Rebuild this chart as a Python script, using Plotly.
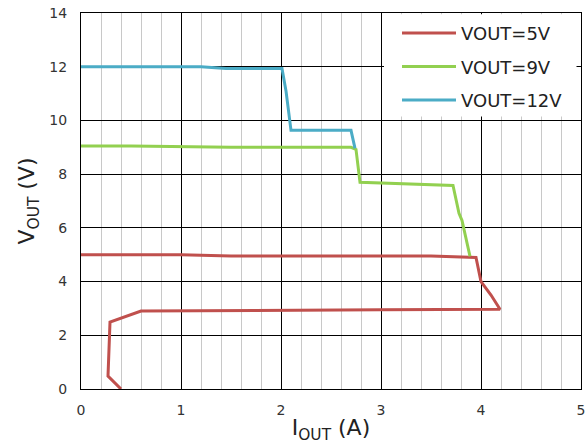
import plotly.graph_objects as go

# Output voltage vs output current curves, one per VOUT setting
i_5v = [0.0, 1.0, 1.5, 3.0, 3.5, 3.95, 4.0, 4.1, 4.19, 3.0, 1.0, 0.6, 0.29, 0.27, 0.27, 0.4]
v_5v = [5.0, 5.0, 4.95, 4.95, 4.95, 4.9, 4.0, 3.5, 2.97, 2.95, 2.9, 2.9, 2.49, 1.0, 0.48, 0.0]

i_9v = [0.0, 0.5, 1.5, 2.7, 2.75, 2.79, 3.72, 3.78, 3.81, 3.89]
v_9v = [9.05, 9.05, 9.0, 9.0, 8.92, 7.7, 7.58, 6.54, 6.28, 4.94]

i_12v = [0.0, 1.2, 1.45, 2.01, 2.05, 2.1, 2.7, 2.74]
v_12v = [12.0, 12.0, 11.93, 11.93, 11.1, 9.63, 9.63, 8.96]

series_names = ["VOUT=5V", "VOUT=9V", "VOUT=12V"]
series_colors = ["#C0504D", "#92D050", "#4BACC6"]

x_ticks = [0, 1, 2, 3, 4, 5]
y_ticks = [0, 2, 4, 6, 8, 10, 12, 14]

FONT = "DejaVu Sans"

fig = go.Figure()
for name, color, xs, ys in zip(series_names, series_colors,
                               [i_5v, i_9v, i_12v], [v_5v, v_9v, v_12v]):
    fig.add_trace(go.Scatter(
        x=xs, y=ys, mode="lines", name=name, legendgroup=name,
        line=dict(color=color, width=3),
    ))

# white panel behind the legend, hiding the grid there
fig.add_shape(
    type="rect", xref="paper", yref="paper",
    x0=0.606, x1=0.991, y0=0.725, y1=0.997,
    fillcolor="white", line=dict(width=0), layer="above",
)

fig.update_layout(
    width=588, height=444,
    margin=dict(l=81, r=3, t=13, b=55),
    paper_bgcolor="white", plot_bgcolor="white",
    font=dict(family=FONT, color="#333333"),
    showlegend=True,
    legend=dict(
        x=0.632, xanchor="left", y=0.995, yanchor="top",
        bgcolor="rgba(0,0,0,0)", borderwidth=0,
        font=dict(family=FONT, size=18, color="#222222"),
        tracegroupgap=7, itemwidth=54,
    ),
    xaxis=dict(
        range=[0, 5], tickvals=x_ticks, ticktext=[str(t) for t in x_ticks],
        showgrid=True, gridcolor="#000000", gridwidth=1,
        minor=dict(dtick=0.2, showgrid=True, gridcolor="#C8C8C8", gridwidth=1),
        showline=True, linecolor="#000000", linewidth=1, mirror=True,
        zeroline=False, ticks="",
        tickfont=dict(family=FONT, size=14, color="#333333"),
        ticklabelstandoff=8, ticklabeloverflow="allow",
        title=dict(text="I<sub>OUT</sub> (A)", font=dict(family=FONT, size=22, color="#222222"),
                   standoff=4),
    ),
    yaxis=dict(
        range=[0, 14], tickvals=y_ticks, ticktext=[str(t) for t in y_ticks],
        showgrid=True, gridcolor="#000000", gridwidth=1,
        showline=True, linecolor="#000000", linewidth=1, mirror=True,
        zeroline=False, ticks="",
        tickfont=dict(family=FONT, size=14, color="#333333"),
        ticklabelstandoff=10,
        title=dict(text="V<sub>OUT</sub> (V)", font=dict(family=FONT, size=22, color="#222222"),
                   standoff=8),
    ),
)

fig.write_html("out.html")
